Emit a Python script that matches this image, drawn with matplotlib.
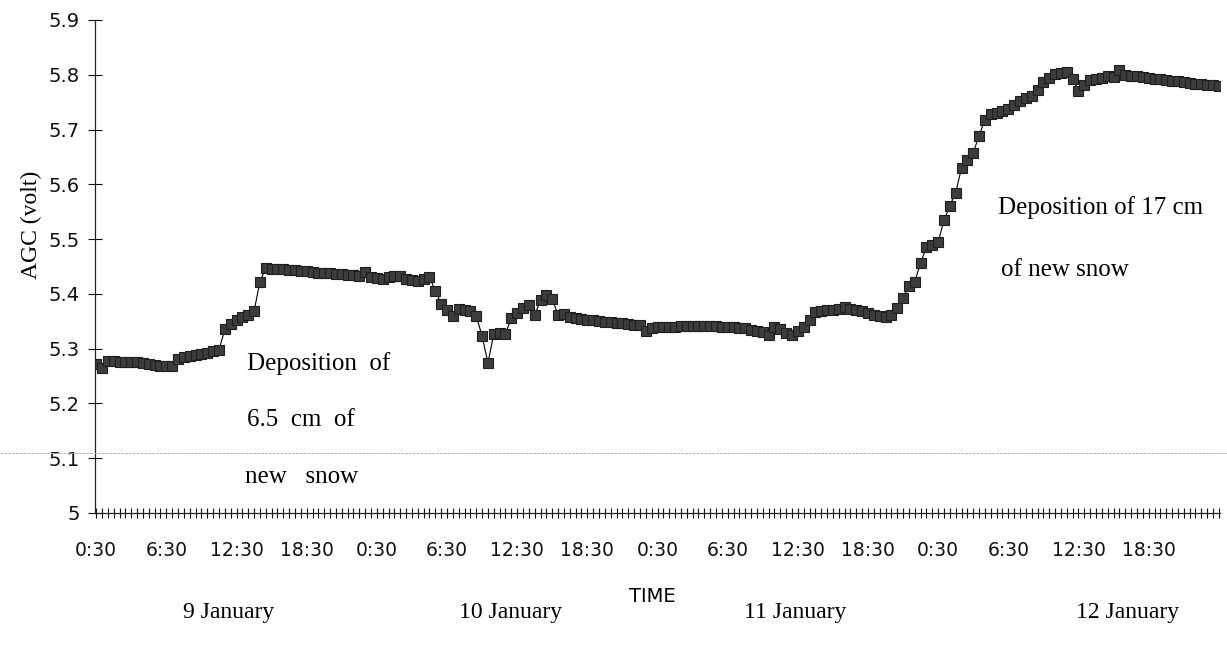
import matplotlib.pyplot as plt
import matplotlib.transforms as mtransforms
from matplotlib.lines import Line2D
import numpy as np

# AGC readings, one every half hour from 0:30 on 9 January
agc = [
    5.272, 5.265, 5.277, 5.277, 5.276, 5.276, 5.275, 5.275, 5.274, 5.272,
    5.270, 5.269, 5.268, 5.268, 5.282, 5.284, 5.286, 5.288, 5.290, 5.292,
    5.296, 5.298, 5.335, 5.345, 5.352, 5.357, 5.362, 5.368, 5.422, 5.447,
    5.446, 5.446, 5.445, 5.444, 5.443, 5.442, 5.441, 5.440, 5.439, 5.438,
    5.438, 5.437, 5.436, 5.435, 5.434, 5.433, 5.440, 5.430, 5.429, 5.428,
    5.430, 5.432, 5.433, 5.428, 5.425, 5.424, 5.427, 5.430, 5.406, 5.382,
    5.370, 5.360, 5.372, 5.370, 5.368, 5.360, 5.323, 5.274, 5.327, 5.328,
    5.327, 5.356, 5.366, 5.374, 5.380, 5.362, 5.388, 5.398, 5.390, 5.362,
    5.364, 5.358, 5.356, 5.355, 5.353, 5.352, 5.350, 5.349, 5.348, 5.347,
    5.346, 5.345, 5.344, 5.344, 5.332, 5.338, 5.339, 5.340, 5.340, 5.340,
    5.341, 5.341, 5.342, 5.342, 5.342, 5.341, 5.341, 5.340, 5.340, 5.339,
    5.338, 5.337, 5.334, 5.332, 5.330, 5.325, 5.340, 5.335, 5.328, 5.325,
    5.332, 5.340, 5.352, 5.367, 5.368, 5.370, 5.370, 5.372, 5.376, 5.372,
    5.370, 5.368, 5.365, 5.362, 5.360, 5.358, 5.362, 5.375, 5.393, 5.415,
    5.422, 5.457, 5.485, 5.490, 5.495, 5.534, 5.561, 5.585, 5.630, 5.645,
    5.658, 5.689, 5.718, 5.728, 5.731, 5.734, 5.738, 5.745, 5.752, 5.758,
    5.762, 5.773, 5.786, 5.795, 5.802, 5.804, 5.805, 5.793, 5.770, 5.782,
    5.790, 5.792, 5.795, 5.798, 5.796, 5.808, 5.800, 5.798, 5.797, 5.796,
    5.795, 5.793, 5.792, 5.790, 5.789, 5.788, 5.786, 5.785, 5.784, 5.783,
    5.782, 5.781, 5.780,
]

# Tick labels every 6 hours (12 readings)
time_labels = ['0:30', '6:30', '12:30', '18:30'] * 4
days = ['9 January', '10 January', '11 January', '12 January']
y_ticks = [5.0, 5.1, 5.2, 5.3, 5.4, 5.5, 5.6, 5.7, 5.8, 5.9]

serif = 'Liberation Serif'
sans = 'DejaVu Sans'

x = np.arange(len(agc))

fig = plt.figure(figsize=(12.27, 6.57), dpi=100)
ax = fig.add_axes([95/1227, 1-513/657, 1125/1227, 493/657])

ax.plot(x, agc, color='black', lw=0.8, marker='s', markersize=6.8,
        markerfacecolor='#3c3c3c', markeredgecolor='#1e1e1e', markeredgewidth=0.8)

ax.set_xlim(-0.2, 192.2)
ax.set_ylim(5.0, 5.9)

for side in ['top', 'right']:
    ax.spines[side].set_visible(False)
for side in ['left', 'bottom']:
    ax.spines[side].set_color('#222222')
    ax.spines[side].set_linewidth(0.9)

# y axis
ax.set_yticks(y_ticks)
ax.set_yticklabels([f'{v:g}' for v in y_ticks])
ax.tick_params(axis='y', direction='inout', length=10, width=0.8, pad=6,
               labelsize=14, colors='#111111')
for lab in ax.get_yticklabels():
    lab.set_family(sans)

# x axis: a tick for every reading, labels every 6 hours
ax.set_xticks(x[::12][:len(time_labels)])
ax.set_xticklabels(time_labels)
ax.set_xticks(x, minor=True)
ax.tick_params(axis='x', which='both', direction='inout', length=6.5, width=0.8,
               colors='#111111')
ax.tick_params(axis='x', which='major', pad=17, labelsize=13.5)
for lab in ax.get_xticklabels():
    lab.set_family(sans)

ax.set_ylabel('AGC (volt)', family=serif, fontsize=17)
ax.yaxis.set_label_coords(-0.047, 0.585)
ax.set_xlabel('TIME', family=sans, fontsize=14)
ax.xaxis.set_label_coords(0.495, -0.150)

# Day names under the time axis
trans = mtransforms.blended_transform_factory(ax.transData, ax.transAxes)
for day, xpos in zip(days, [22.7, 70.9, 119.5, 176.4]):
    ax.text(xpos, -0.201, day, transform=trans, ha='center', va='center',
            family=serif, fontsize=17, clip_on=False)

# Annotations
ann = dict(family=serif, fontsize=18, ha='left', va='center', clip_on=False)
ax.text(25.8, 5.272, 'Deposition  of', **ann)
ax.text(25.8, 5.170, '6.5  cm  of', **ann)
ax.text(25.5, 5.066, 'new   snow', **ann)
ax.text(154.2, 5.558, 'Deposition of 17 cm', **ann)
ax.text(154.7, 5.444, 'of new snow', **ann)

# faint scan line across the page
fig.add_artist(Line2D([0, 1], [1-453/657, 1-453/657], transform=fig.transFigure,
                      color='#b5b5b5', lw=0.7, ls=(0, (3, 1))))

fig.savefig('out.png', dpi=100, facecolor='white')
